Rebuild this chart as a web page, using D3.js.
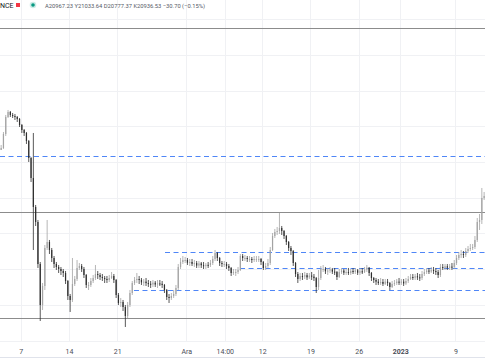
<!DOCTYPE html>
<html><head><meta charset="utf-8">
<script src="https://cdn.jsdelivr.net/npm/d3@7"></script>
<style>html,body{margin:0;padding:0;background:#fff;}svg{display:block;}</style>
</head><body>
<script>
// ---- DATA ----
const firstOpen = 20336;
const closes = [
20392,20784,21260,21400,21316,21288,21260,21204,21036,20896,
20812,20588,20112,19552,18740,18320,17144,15996,16528,17592,
17760,17536,17312,17144,17060,17004,16948,16892,16668,16248,
16136,16584,16724,17032,17088,17004,16836,16556,16556,16668,
16752,16864,16836,16780,16752,16724,16696,16752,16808,16696,
16276,16052,16080,15940,15688,15996,16332,16612,16696,16724,
16700,16630,16650,16610,16590,16570,16620,16570,16600,16590,
16556,16416,16220,16192,16248,16304,16472,17060,17200,17256,
17256,17180,17200,17150,17170,17100,17160,17110,17090,17120,
17116,17172,17284,17452,17312,17172,17144,17144,17088,17032,
16892,16920,16920,16976,17368,17312,17312,17284,17284,17256,
17284,17284,17284,17200,17032,17088,17172,17536,17928,18040,
18068,18152,18068,17928,17760,17592,17508,17172,16864,16724,
16808,16790,16830,16770,16820,16790,16750,16500,16752,17004,
17004,16940,16960,16990,16930,16920,16780,16920,16960,16900,
16920,16890,16950,16920,16970,16900,16940,16910,16990,17040,
16892,16752,16696,16650,16610,16640,16590,16650,16612,16500,
16584,16612,16650,16620,16650,16600,16668,16724,16780,16760,
16800,16770,16752,16864,16920,16960,16930,16976,16948,16920,
16836,17060,17030,17080,17040,17070,17060,17172,17312,17396,
17424,17396,17508,17564,17592,17620,17816,18320,18376,18992,
19048];
const highs = [
20476,20840,21316,21456,21428,21372,21344,21288,21232,21064,
20924,20840,20616,20140,20812,18796,18376,17200,16612,17676,
18376,17816,17592,17368,17200,17116,17060,17004,16948,16696,
16304,17312,16808,17256,17172,17144,17060,16864,16640,16752,
16836,17116,16948,16892,16864,16808,16808,16836,16920,16864,
16724,16332,16192,16136,15996,16080,16416,16668,16780,16892,
16808,16752,16724,16752,16696,16668,16696,16668,16696,16696,
16668,16584,16444,16304,16332,16416,16556,17144,17312,17368,
17340,17312,17284,17284,17256,17228,17228,17200,17200,17172,
17200,17256,17368,17536,17480,17340,17228,17228,17200,17144,
17060,17004,17004,17060,17424,17424,17396,17368,17368,17340,
17368,17368,17368,17312,17228,17172,17284,17620,18012,18124,
18180,18572,18208,18096,17956,17788,17648,17536,17200,16920,
16892,16892,16920,16892,16892,16920,16864,16780,16976,17088,
17116,17060,17032,17060,17032,17032,16948,17004,17032,17004,
17004,17032,17004,17032,17032,17004,17032,17032,17060,17116,
17060,16920,16780,16752,16724,16752,16724,16724,16724,16640,
16668,16696,16724,16752,16724,16724,16752,16808,16864,16864,
16864,16892,16864,16948,17004,17032,17032,17060,17060,17032,
16976,17144,17144,17144,17144,17144,17172,17256,17396,17480,
17536,17508,17592,17648,17704,17704,17928,18432,18544,19272,
19160];
const lows = [
20336,20364,20728,21232,21260,21232,21176,21120,20980,20812,
20728,20504,20000,19440,17536,18208,17032,15548,15856,16416,
17536,17424,17200,17032,16976,16892,16836,16780,16584,16136,
15800,16080,16528,16668,16976,16920,16752,16472,16416,16500,
16612,16696,16724,16696,16668,16612,16612,16640,16724,16612,
16192,15996,15940,15828,15380,15632,15940,16276,16556,16612,
16584,16556,16528,16528,16500,16472,16500,16500,16472,16528,
16472,16332,16136,16052,16136,16192,16248,16416,17004,17144,
17172,17116,17088,17088,17060,17032,17032,17032,17004,17004,
17032,17060,17116,17228,17228,17088,17060,17060,17004,16948,
16808,16836,16808,16864,16948,17228,17228,17200,17200,17172,
17200,17200,17200,17116,16976,16976,17032,17116,17508,17872,
17956,17984,17956,17844,17676,17508,17396,17088,16780,16612,
16668,16696,16724,16696,16724,16696,16668,16332,16416,16696,
16920,16864,16836,16892,16864,16836,16696,16752,16864,16836,
16836,16836,16836,16864,16864,16836,16836,16864,16892,16920,
16808,16668,16612,16556,16556,16556,16528,16556,16528,16416,
16472,16528,16556,16556,16556,16528,16556,16612,16696,16696,
16696,16696,16668,16696,16808,16864,16864,16892,16864,16836,
16752,16780,16976,16976,16976,16976,16976,17004,17116,17256,
17312,17312,17340,17452,17508,17536,17564,17760,18096,18264,
18936];
const startTime = Date.UTC(2022, 10, 4);          // first candle
const candleHours = 8;
const solidLevels = [23752, 18600, 15632];
const dashLevels = [20168, 17480, 17032, 16416];
const dashStarts = [Date.UTC(2022,10,4), Date.UTC(2022,10,27,22), Date.UTC(2022,11,8,19), Date.UTC(2022,10,23,10)];
const gridPrices = [15000,16000,17000,18000,19000,20000,21000,22000,23000,24000];
const tickDates = [Date.UTC(2022,10,7), Date.UTC(2022,10,14), Date.UTC(2022,10,21), Date.UTC(2022,11,1),
  Date.UTC(2022,11,6,14), Date.UTC(2022,11,12), Date.UTC(2022,11,19), Date.UTC(2022,11,26),
  Date.UTC(2023,0,1), Date.UTC(2023,0,9)];
const tickLabels = ["7","14","21","Ara","14:00","12","19","26","2023","9"];
const boldTicks = ["2023"];
const headerSymbol = "NCE";
const headerOHLC = "A20967.23 Y21033.64 D20777.37 K20936.53 \u221230.70 (\u22120.15%)";

// ---- CHART ----
const W = 485, H = 360, plotBottom = 341;
const svg = d3.select("body").append("svg").attr("width", W).attr("height", H)
  .style("font-family", "Roboto, 'Liberation Sans', sans-serif");

const x = d3.scaleUtc().domain([Date.UTC(2022,10,4), Date.UTC(2023,0,13,7)]).range([0, W]);
const y = d3.scaleLinear().domain([15000, 24000]).range([340.57, 19.14]);
const hourMs = 3600000;

const candles = closes.map((c, i) => {
  const o = i === 0 ? firstOpen : closes[i - 1];
  const t = startTime + i * candleHours * hourMs;
  return { t, o, c, h: Math.max(highs[i], o, c), l: Math.min(lows[i], o, c) };
});

// grid
svg.append("g").selectAll("line").data(gridPrices).join("line")
  .attr("x1", 0).attr("x2", W)
  .attr("y1", d => Math.round(y(d)) + 0.5).attr("y2", d => Math.round(y(d)) + 0.5)
  .attr("stroke", "#f0f1f4").attr("stroke-width", 1);
svg.append("g").selectAll("line").data(tickDates).join("line")
  .attr("x1", d => Math.round(x(d)) + 0.5).attr("x2", d => Math.round(x(d)) + 0.5)
  .attr("y1", 0).attr("y2", plotBottom)
  .attr("stroke", "#f0f1f4").attr("stroke-width", 1);

// bottom border of time axis
svg.append("line").attr("x1", 0).attr("x2", W).attr("y1", 357.5).attr("y2", 357.5)
  .attr("stroke", "#e0e3eb");

// solid levels
svg.append("g").selectAll("line").data(solidLevels).join("line")
  .attr("x1", 0).attr("x2", W)
  .attr("y1", d => Math.round(y(d)) + 0.5).attr("y2", d => Math.round(y(d)) + 0.5)
  .attr("stroke", "#8c8c8c").attr("stroke-width", 1);

// dashed levels
svg.append("g").selectAll("line").data(dashLevels).join("line")
  .attr("x1", (d, i) => x(dashStarts[i])).attr("x2", W)
  .attr("y1", d => Math.round(y(d)) + 0.5).attr("y2", d => Math.round(y(d)) + 0.5)
  .attr("stroke", "#4f86f7").attr("stroke-width", 1).attr("stroke-dasharray", "5,3.5");

// candles
const bw = 1.2;
const upCol = "#a3a3a3", downCol = "#2e2e2e";
const cg = svg.append("g");
cg.selectAll("line").data(candles).join("line")
  .attr("x1", d => x(d.t + candleHours * hourMs / 2)).attr("x2", d => x(d.t + candleHours * hourMs / 2))
  .attr("y1", d => y(d.h)).attr("y2", d => y(d.l))
  .attr("stroke", d => d.c >= d.o ? upCol : downCol).attr("stroke-width", 0.8);
cg.selectAll("rect").data(candles).join("rect")
  .attr("x", d => x(d.t + candleHours * hourMs / 2) - bw / 2)
  .attr("width", bw)
  .attr("y", d => y(Math.max(d.o, d.c)))
  .attr("height", d => Math.max(1, Math.abs(y(d.o) - y(d.c))))
  .attr("fill", d => d.c >= d.o ? upCol : downCol);

// time axis
const axis = d3.axisBottom(x).tickValues(tickDates).tickSize(0)
  .tickFormat((d, i) => tickLabels[i]);
const ag = svg.append("g").attr("transform", `translate(0,${plotBottom + 5})`).call(axis);
ag.select(".domain").remove();
ag.selectAll("text").attr("font-size", 7).attr("fill", "#4a4d57")
  .attr("font-family", "Roboto, 'Liberation Sans', sans-serif")
  .attr("font-weight", (d, i) => boldTicks.includes(tickLabels[i]) ? "bold" : "normal");

// header
svg.append("text").attr("x", 0).attr("y", 8).attr("font-size", 7).attr("fill", "#131722").text(headerSymbol);
svg.append("rect").attr("x", 16).attr("y", 3).attr("width", 4).attr("height", 4).attr("fill", "#f23645");
svg.append("circle").attr("cx", 33).attr("cy", 5).attr("r", 3.3).attr("fill", "rgba(8,153,129,0.2)");
svg.append("circle").attr("cx", 33).attr("cy", 5).attr("r", 1.8).attr("fill", "#089981");
svg.append("text").attr("x", 45).attr("y", 7.5).attr("font-size", 5.8).attr("fill", "#555a66").text(headerOHLC);
</script>
</body></html>
